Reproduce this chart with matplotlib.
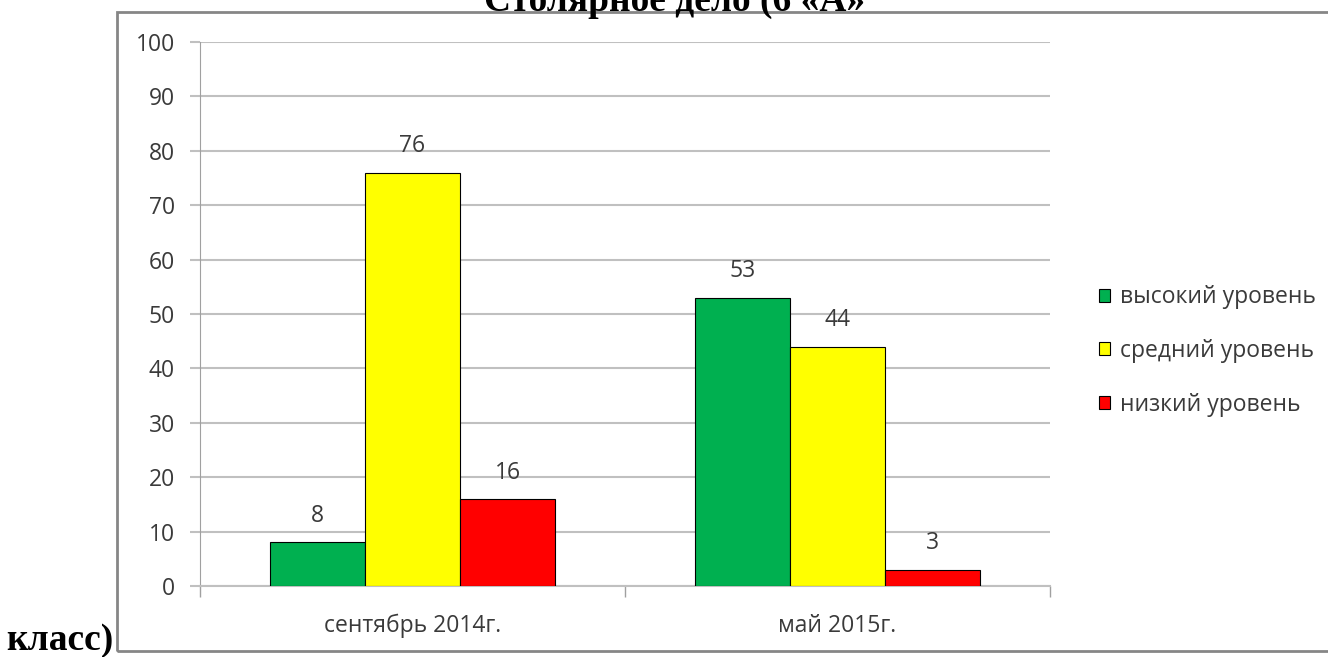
import numpy as np
import matplotlib.pyplot as plt
from matplotlib.patches import Rectangle

# данные диаграммы
categories = ['сентябрь 2014г.', 'май 2015г.']
series_names = ['высокий уровень', 'средний уровень', 'низкий уровень']
high = [8, 53]
middle = [76, 44]
low = [16, 3]
colors = ['#00b050', '#ffff00', '#ff0000']

W, H = 1328, 657
fig = plt.figure(figsize=(W / 100, H / 100), dpi=100)

# рамка вокруг диаграммы
fig.patches.append(Rectangle((117 / W, 1 - 651 / H), (1340 - 117) / W, (651 - 12) / H,
                             transform=fig.transFigure, fill=False,
                             edgecolor='#868686', linewidth=2, zorder=0))

ax = fig.add_axes([200 / W, 1 - 586 / H, (1050 - 200) / W, (586 - 42) / H])

x = np.arange(len(categories))
width = 0.2235
label_font = ['Open Sans', 'DejaVu Sans']
fs = 16.5
for k, (vals, name, c) in enumerate(zip([high, middle, low], series_names, colors)):
    pos = x + (k - 1) * width
    bars = ax.bar(pos, vals, width, color=c, edgecolor='black', linewidth=0.8,
                  label=name, zorder=3)
    for b, v in zip(bars, vals):
        ax.annotate(str(v), (b.get_x() + b.get_width() / 2, v), xytext=(0, 19),
                    textcoords='offset points', ha='center', va='center',
                    fontsize=fs, color='#3a3a3a', family=label_font)

ax.set_xlim(-0.5, 1.5)
ax.set_ylim(0, 100)
ax.set_yticks(range(0, 101, 10))
ax.grid(axis='y', color='#c0c0c0', linewidth=1.5, zorder=0)
ax.set_axisbelow(True)

for s in ['top', 'right']:
    ax.spines[s].set_visible(False)
ax.spines['left'].set_color('#a0a0a0')
ax.spines['bottom'].set_color('#c0c0c0')
ax.spines['bottom'].set_linewidth(1.5)

ax.tick_params(axis='y', length=7, color='#c0c0c0', width=1.5, labelsize=fs,
               labelcolor='#3a3a3a', pad=11)
ax.set_yticklabels([str(v) for v in range(0, 101, 10)], family=label_font)

# подписи категорий по центру, засечки на границах
ax.set_xticks([-0.5, 0.5, 1.5])
ax.set_xticklabels([])
ax.tick_params(axis='x', length=8, color='#a0a0a0', width=1)
for xi, cat in zip(x, categories):
    ax.annotate(cat, (xi, 0), xycoords=ax.get_xaxis_transform(), xytext=(0, -29),
                textcoords='offset points', ha='center', va='center',
                fontsize=fs, color='#3a3a3a', family=label_font)

leg = fig.legend(*ax.get_legend_handles_labels(), loc='center left',
                 bbox_to_anchor=(1078 / W, 1 - 351 / H), frameon=False,
                 prop={'family': label_font, 'size': fs}, labelcolor='#3a3a3a',
                 handlelength=0.5, handleheight=0.5, labelspacing=1.3, handletextpad=0.45)

fig.text(675 / W, 1 - 11 / H, 'Столярное дело (6 «А»', ha='center', va='baseline',
         fontsize=27, fontweight='bold', family='Liberation Serif')
fig.text(6 / W, 1 - 650 / H, 'класс)', ha='left', va='baseline',
         fontsize=27, fontweight='bold', family='Liberation Serif')

fig.savefig('out.png', dpi=100)
